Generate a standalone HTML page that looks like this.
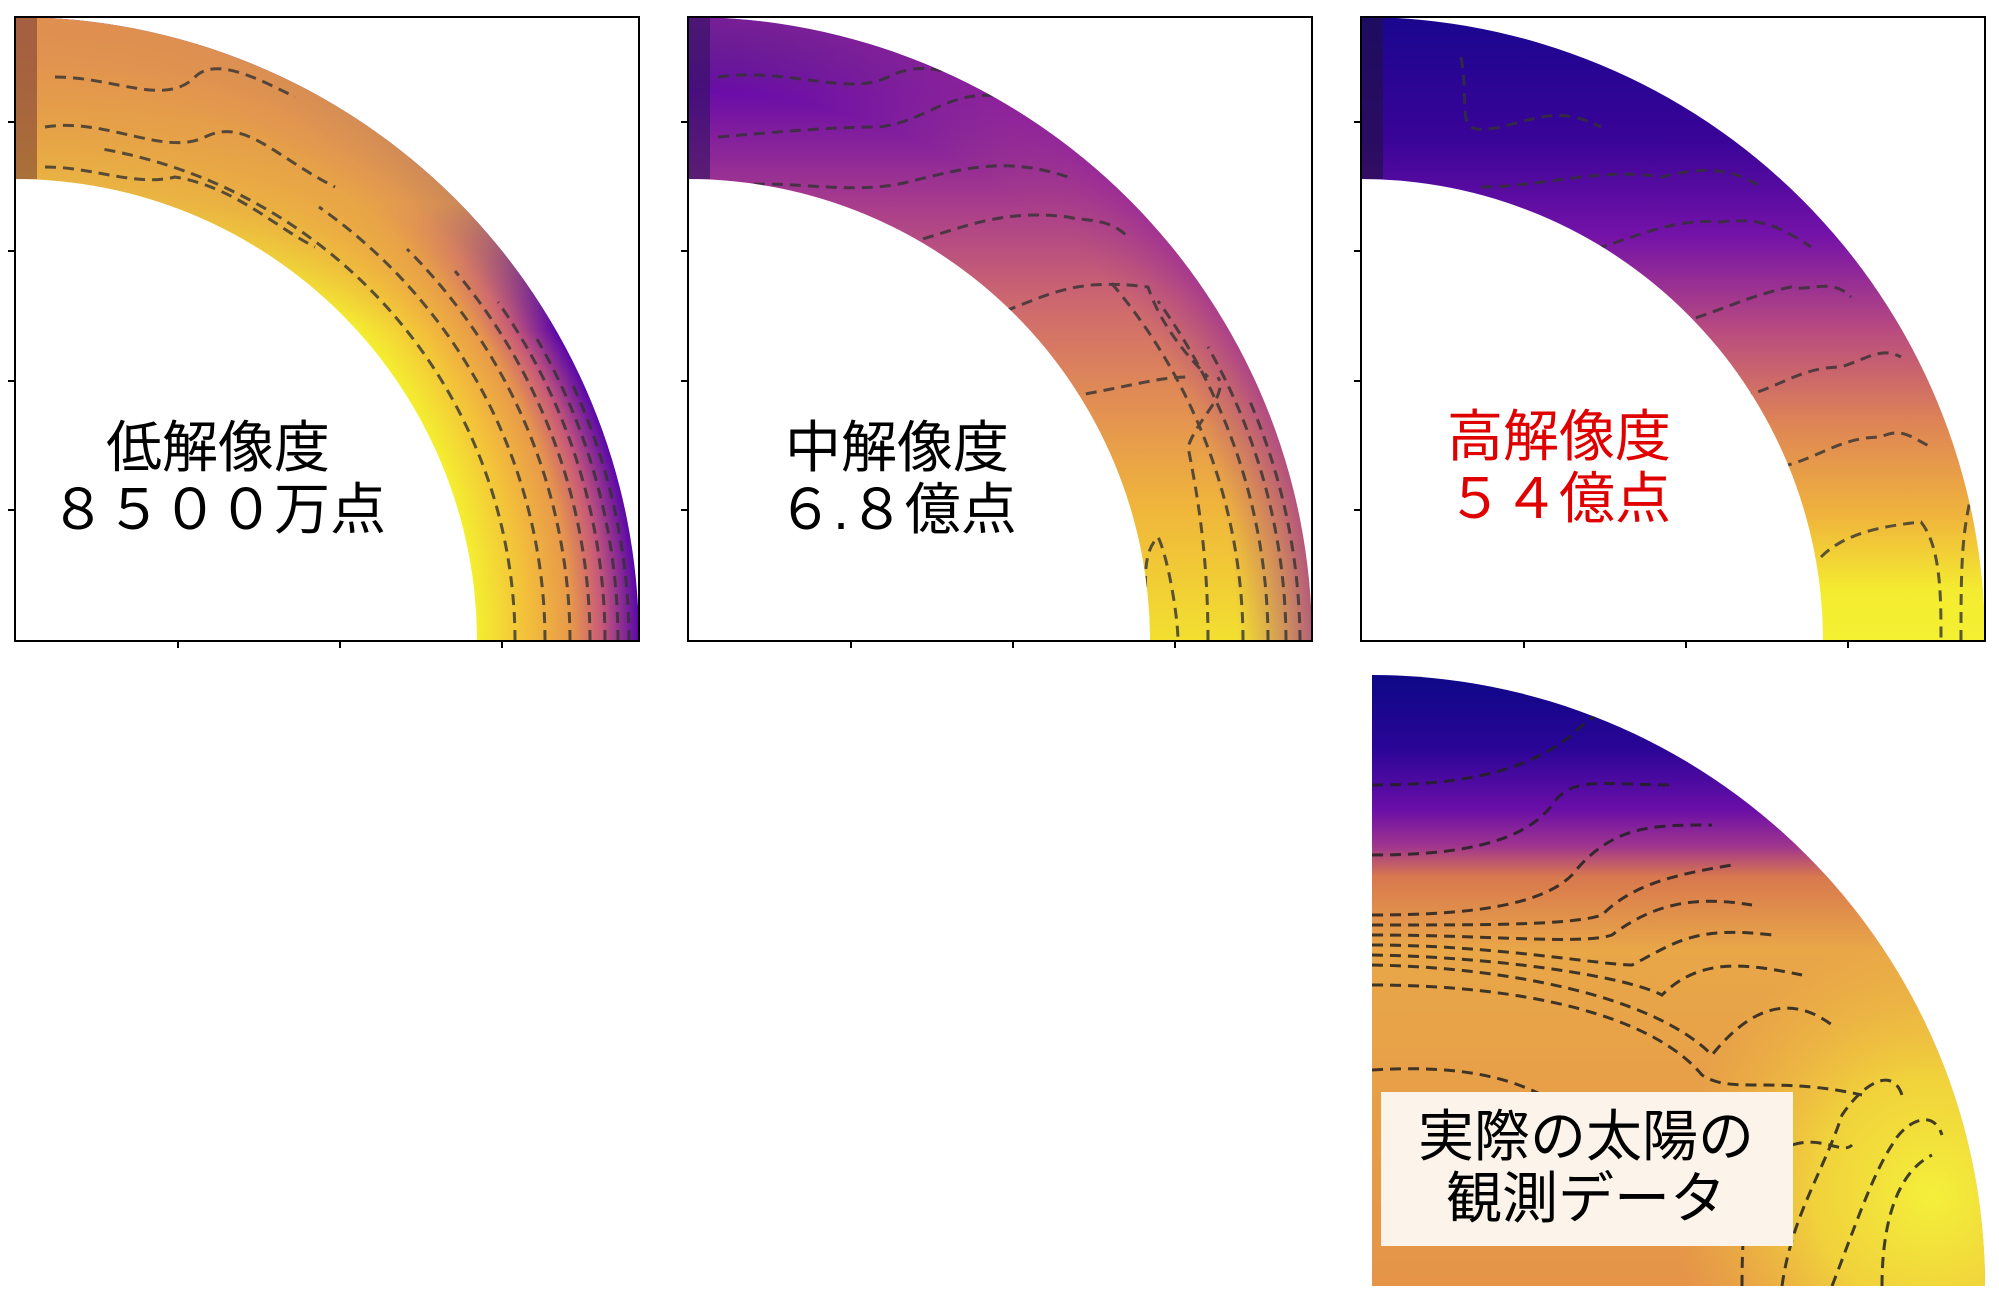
<!DOCTYPE html>
<html><head><meta charset="utf-8"><style>
html,body{margin:0;padding:0;background:#fff;}
svg{display:block;}
text{font-family:"Liberation Sans","Noto Sans CJK JP",sans-serif;}
</style></head><body>
<svg width="1999" height="1294" viewBox="0 0 1999 1294" xmlns="http://www.w3.org/2000/svg">
<defs>
  <clipPath id="ann"><path d="M0,0 A624,624 0 0 1 624,624 L462,624 A462,462 0 0 0 0,162 Z"/></clipPath>
  <clipPath id="disk"><path d="M0,0 A613,611 0 0 1 613,611 L0,611 Z"/></clipPath>
  <radialGradient id="r1" cx="0" cy="624" r="624" gradientUnits="userSpaceOnUse">
    <stop offset="0.74" stop-color="#f4ee30"/><stop offset="0.82" stop-color="#f3c03a"/>
    <stop offset="0.89" stop-color="#e8994a"/><stop offset="0.94" stop-color="#c85a78"/>
    <stop offset="1" stop-color="#5a08a8"/>
  </radialGradient>
  <linearGradient id="l1" x1="0" y1="0" x2="0" y2="624" gradientUnits="userSpaceOnUse">
    <stop offset="0" stop-color="#e09050" stop-opacity="1"/><stop offset="0.3" stop-color="#e8a845" stop-opacity="0.8"/>
    <stop offset="0.5" stop-color="#e8a845" stop-opacity="0"/>
  </linearGradient>
  <linearGradient id="l2" x1="0" y1="0" x2="0" y2="624" gradientUnits="userSpaceOnUse">
    <stop offset="0" stop-color="#2a0494"/><stop offset="0.12" stop-color="#6a0ca8"/>
    <stop offset="0.3" stop-color="#a83c8c"/><stop offset="0.45" stop-color="#cc6670"/>
    <stop offset="0.6" stop-color="#e08a56"/><stop offset="0.78" stop-color="#f0b43c"/>
    <stop offset="1" stop-color="#f2e030"/>
  </linearGradient>
  <radialGradient id="r2" cx="0" cy="624" r="624" gradientUnits="userSpaceOnUse">
    <stop offset="0.88" stop-color="#b04a80" stop-opacity="0"/><stop offset="1" stop-color="#9a2a98" stop-opacity="0.7"/>
  </radialGradient>
  <linearGradient id="l3" x1="0" y1="0" x2="0" y2="624" gradientUnits="userSpaceOnUse">
    <stop offset="0" stop-color="#1a0690"/><stop offset="0.2" stop-color="#3a0498"/>
    <stop offset="0.35" stop-color="#7412a8"/><stop offset="0.5" stop-color="#b84a80"/>
    <stop offset="0.65" stop-color="#de8456"/><stop offset="0.8" stop-color="#f0b43c"/>
    <stop offset="0.92" stop-color="#f4ec30"/><stop offset="1" stop-color="#f4f032"/>
  </linearGradient>
  <linearGradient id="l4" x1="0" y1="0" x2="0" y2="611" gradientUnits="userSpaceOnUse">
    <stop offset="0" stop-color="#0d0887"/><stop offset="0.12" stop-color="#2a0596"/>
    <stop offset="0.22" stop-color="#6a0ea8"/><stop offset="0.28" stop-color="#a0358e"/>
    <stop offset="0.33" stop-color="#d8784e"/><stop offset="0.45" stop-color="#e9a748"/>
    <stop offset="1" stop-color="#e59448"/>
  </linearGradient>
  <radialGradient id="r4" cx="560" cy="520" r="260" gradientUnits="userSpaceOnUse">
    <stop offset="0" stop-color="#f4f03a"/><stop offset="0.45" stop-color="#f2d83a" stop-opacity="0.9"/><stop offset="1" stop-color="#f0c040" stop-opacity="0"/>
  </radialGradient>
</defs>

<g transform="translate(15,17)">
  <g clip-path="url(#ann)">
    <rect width="624" height="624" fill="url(#r1)"/>
    <rect width="624" height="624" fill="url(#l1)"/>
    <rect x="0" y="0" width="22" height="162" fill="#6a3030" opacity="0.5"/>
    <g fill="none" stroke="#333" stroke-width="3" stroke-dasharray="11,7" opacity="0.8">
      <path d="M500,624 A500,500 0 0 0 87,132"/>
      <path d="M530,624 A530,530 0 0 0 304,190"/>
      <path d="M555,624 A555,555 0 0 0 392,232"/>
      <path d="M575,624 A575,575 0 0 0 440,254"/>
      <path d="M590,624 A590,590 0 0 0 483,285"/>
      <path d="M603,624 A603,603 0 0 0 522,322"/>
      <path d="M614,624 A614,614 0 0 0 556,364"/>
      <path d="M30,150 C80,150 120,170 160,160 C220,170 260,210 300,230"/>
      <path d="M30,110 C90,100 150,140 190,120 C230,100 260,140 320,170"/>
      <path d="M40,60 C100,60 150,90 180,60 C200,40 240,60 280,80"/>
    </g>
  </g>
  <rect x="0" y="0" width="624" height="624" fill="none" stroke="#000" stroke-width="2"/>
</g>

<g transform="translate(688,17)">
  <g clip-path="url(#ann)">
    <rect width="624" height="624" fill="url(#l2)"/>
    <rect width="624" height="624" fill="url(#r2)"/>
    <rect x="0" y="0" width="22" height="162" fill="#301060" opacity="0.6"/>
    <g fill="none" stroke="#333" stroke-width="3" stroke-dasharray="11,7" opacity="0.8">
      <path d="M30,60 C100,50 160,80 200,60 C240,40 270,60 300,70"/>
      <path d="M30,120 C90,115 140,110 190,110 C240,105 260,70 320,80"/>
      <path d="M30,170 C100,160 160,180 220,165 C280,150 320,140 380,160"/>
      <path d="M200,230 C260,220 300,190 380,200 C400,205 420,200 440,220"/>
      <path d="M300,300 C360,280 380,260 460,270 C470,300 490,330 520,360"/>
      <path d="M380,380 C440,370 470,360 500,360"/>
      <path d="M460,624 C460,580 450,540 470,520 C480,540 490,600 490,624"/>
      <path d="M520,624 C520,540 510,480 500,430 C510,400 540,380 530,360"/>
      <path d="M555,624 A555,555 0 0 0 420,262"/>
      <path d="M580,624 A580,580 0 0 0 470,284"/>
      <path d="M598,624 A598,598 0 0 0 520,330"/>
      <path d="M612,624 A612,612 0 0 0 560,380"/>
    </g>
  </g>
  <rect x="0" y="0" width="624" height="624" fill="none" stroke="#000" stroke-width="2"/>
</g>

<g transform="translate(1361,17)">
  <g clip-path="url(#ann)">
    <rect width="624" height="624" fill="url(#l3)"/>
    <rect x="0" y="0" width="22" height="162" fill="#201040" opacity="0.6"/>
    <g fill="none" stroke="#333" stroke-width="3" stroke-dasharray="11,7" opacity="0.8">
      <path d="M100,40 C110,100 90,120 140,110 C180,100 200,90 240,110"/>
      <path d="M120,170 C180,170 240,150 300,160 C340,150 370,150 400,170"/>
      <path d="M200,240 C260,230 300,200 360,205 C400,200 420,210 450,230"/>
      <path d="M300,310 C350,300 380,280 430,270 C450,275 470,260 490,280"/>
      <path d="M380,380 C420,370 440,350 480,350 C510,340 520,330 540,340"/>
      <path d="M420,450 C460,440 480,420 520,420 C540,410 550,420 570,430"/>
      <path d="M460,540 C480,520 510,510 560,505 C580,530 580,580 580,624"/>
      <path d="M600,624 C600,560 600,520 610,480"/>
    </g>
  </g>
  <rect x="0" y="0" width="624" height="624" fill="none" stroke="#000" stroke-width="2"/>
</g>

<g stroke="#000" stroke-width="2">
  <path d="M8,122H15M8,251H15M8,381H15M8,510H15"/>
  <path d="M681,122H688M681,251H688M681,381H688M681,510H688"/>
  <path d="M1354,122H1361M1354,251H1361M1354,381H1361M1354,510H1361"/>
  <path d="M178,641V648M340,641V648M502,641V648"/>
  <path d="M851,641V648M1013,641V648M1175,641V648"/>
  <path d="M1524,641V648M1686,641V648M1848,641V648"/>
</g>

<g transform="translate(1372,675)">
  <g clip-path="url(#disk)">
    <rect width="613" height="611" fill="url(#l4)"/>
    <rect width="613" height="611" fill="url(#r4)"/>
    <g fill="none" stroke="#222" stroke-width="3" stroke-dasharray="11,7" opacity="0.85">
      <path d="M0,110 C80,110 150,100 200,60 C215,45 225,40 230,38"/>
      <path d="M0,180 C80,180 150,170 180,130 C200,100 230,110 300,110"/>
      <path d="M0,240 C100,240 170,230 200,200 C240,150 280,150 340,150"/>
      <path d="M0,250 C120,250 200,250 230,240 C260,210 300,200 360,190"/>
      <path d="M0,260 C120,260 210,270 240,260 C280,230 320,220 380,230"/>
      <path d="M0,270 C120,270 230,290 260,290 C300,270 320,250 400,260"/>
      <path d="M0,280 C120,282 250,300 290,320 C330,280 380,290 430,300"/>
      <path d="M0,290 C130,292 280,320 340,380 C380,330 420,320 460,350"/>
      <path d="M0,310 C150,310 280,340 330,400 C360,420 400,400 490,420"/>
      <path d="M0,395 C80,390 130,400 170,420"/>
      <path d="M370,611 C370,520 380,480 420,470 C450,460 470,480 480,470"/>
      <path d="M410,611 C420,540 450,500 470,440 C490,410 520,390 530,420"/>
      <path d="M460,611 C480,560 500,500 520,470 C530,450 560,430 570,460"/>
      <path d="M510,611 C510,560 520,500 560,480"/>
    </g>
  </g>
  <rect x="9" y="417" width="412" height="154" fill="#fcf4ea"/>
</g>

<g font-size="56" text-anchor="middle">
  <text x="218" y="467" fill="#000">低解像度</text>
  <text x="218" y="529" fill="#000">８５００万点</text>
  <text x="897" y="467" fill="#000">中解像度</text>
  <text x="897" y="529" fill="#000">６.８億点</text>
  <text x="1559" y="456" fill="#e00000">高解像度</text>
  <text x="1559" y="518" fill="#e00000">５４億点</text>
  <text x="1586" y="1156" fill="#000">実際の太陽の</text>
  <text x="1586" y="1218" fill="#000">観測データ</text>
</g>
</svg>
</body></html>
